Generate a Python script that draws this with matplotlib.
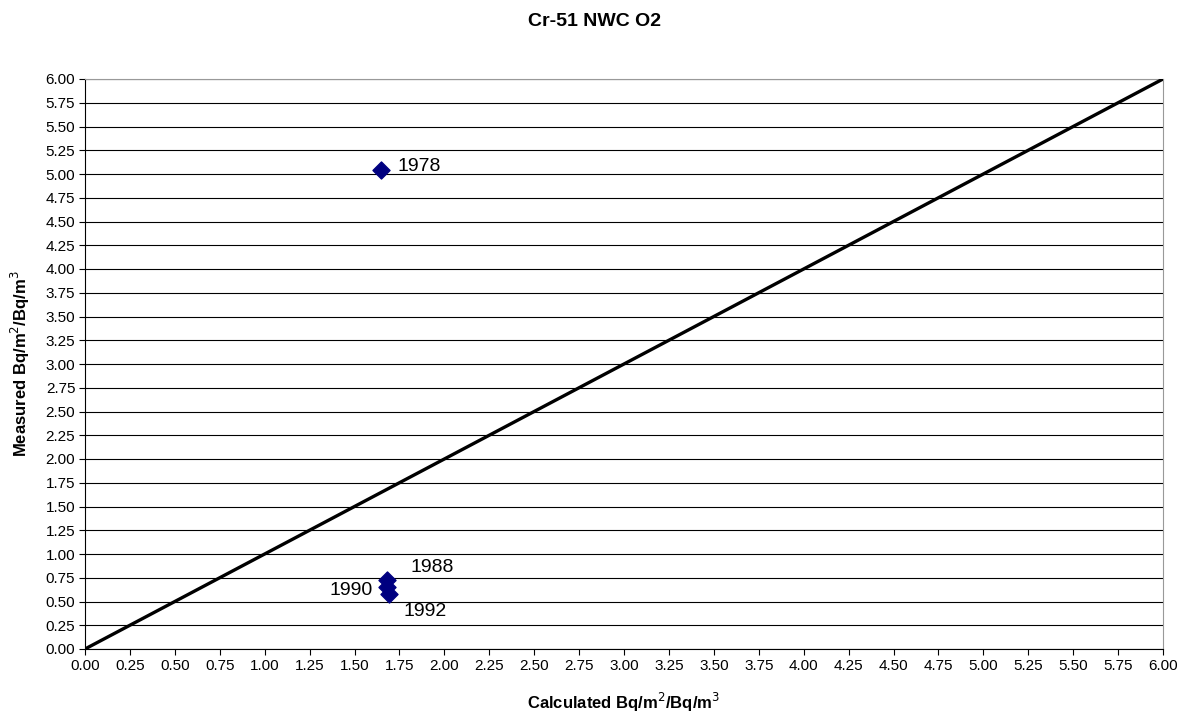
import matplotlib
matplotlib.use("Agg")
import matplotlib.pyplot as plt
import numpy as np

plt.rcParams['font.family'] = ['Liberation Sans', 'DejaVu Sans']

# data
years = ['1978', '1988', '1990', '1992']
calculated = [1.65, 1.68, 1.68, 1.69]
measured = [5.04, 0.73, 0.65, 0.58]
label_offsets = [(11.5, 3), (17, 8.5), (-41, -2.5), (11, -13)]
line_x = [0.0, 6.0]
line_y = [0.0, 6.0]

fig = plt.figure(figsize=(11.88, 7.14), dpi=100)
ax = fig.add_axes([85 / 1188, 1 - 649 / 714, (1163 - 85) / 1188, (649 - 79) / 714])

ticks = np.arange(0, 6.01, 0.25)
ax.set_xlim(0, 6)
ax.set_ylim(0, 6)
ax.set_xticks(ticks)
ax.set_yticks(ticks)
ax.set_xticklabels([f'{t:.2f}' for t in ticks], fontsize=11)
ax.set_yticklabels([f'{t:.2f}' for t in ticks], fontsize=11)
ax.tick_params(direction='out', length=4, width=0.8, color='black', pad=3)
ax.yaxis.grid(True, color='black', linewidth=0.8)
ax.set_axisbelow(True)

for side in ['top', 'right']:
    ax.spines[side].set_color('#999999')
for side in ['left', 'bottom']:
    ax.spines[side].set_color('black')

ax.plot(line_x, line_y, color='black', linewidth=2.4, zorder=3)
ax.scatter(calculated, measured, marker='D', s=75, color='#000080', zorder=4)

for yr, xv, yv, off in zip(years, calculated, measured, label_offsets):
    ax.annotate(yr, (xv, yv), xytext=off, textcoords='offset points',
                fontsize=14, va='center', ha='left')

ax.set_xlabel('Calculated Bq/m$^2$/Bq/m$^3$', fontsize=12, fontweight='bold', va='center')
ax.xaxis.set_label_coords(0.5, (649 - 702) / 570)
ax.set_ylabel('Measured Bq/m$^2$/Bq/m$^3$', fontsize=12, fontweight='bold', va='center')
ax.yaxis.set_label_coords((20 - 85) / 1078, 0.5)
fig.text(0.5, 1 - 22 / 714, 'Cr-51 NWC O2', fontsize=14, fontweight='bold',
         ha='center', va='center')

fig.savefig('out.png', dpi=100)
